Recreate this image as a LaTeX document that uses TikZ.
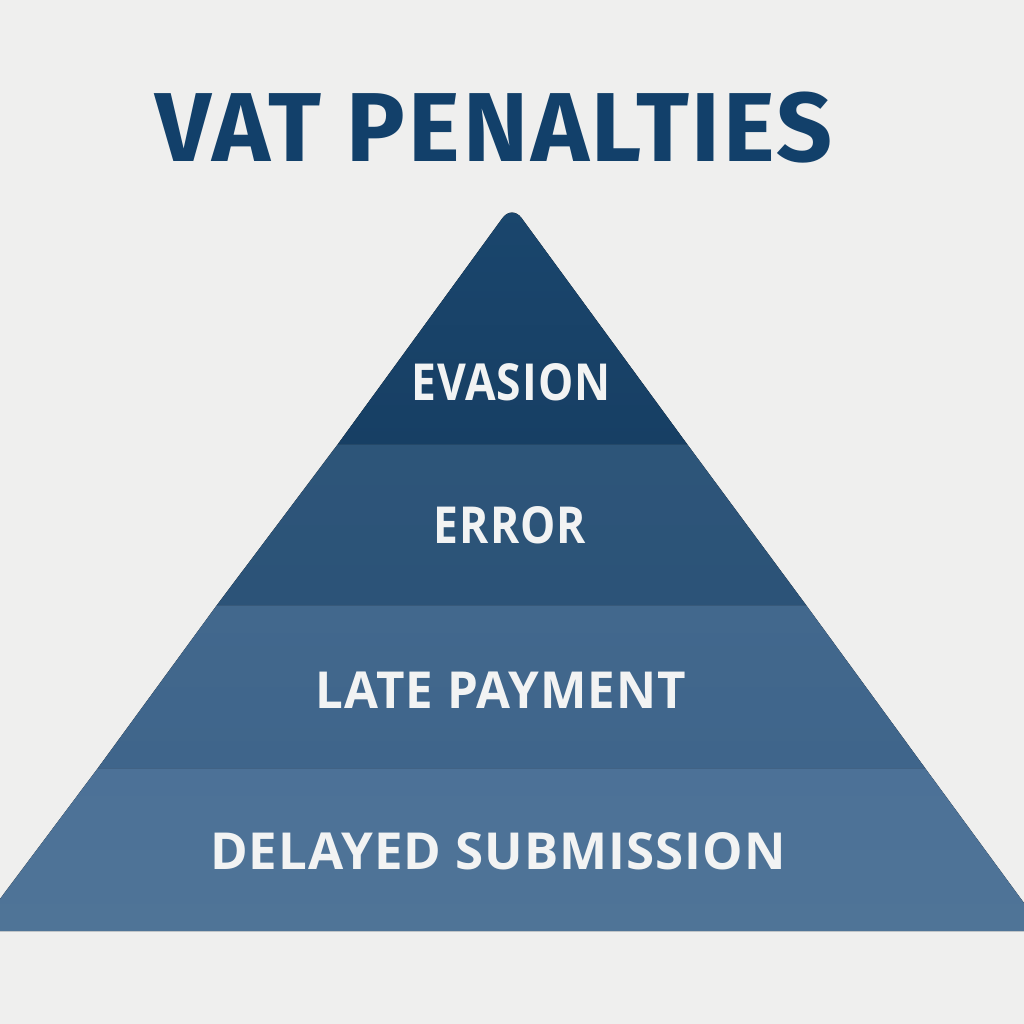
\documentclass[tikz,border=0pt]{standalone}
\usepackage{fontspec}
\setmainfont{Open Sans}
\newfontfamily\titlefont[LetterSpace=3]{Fira Sans}
\definecolor{bgc}{HTML}{EFEFEE}
\definecolor{titlec}{HTML}{12406A}
\definecolor{txt}{HTML}{F2F3F3}
\definecolor{aa}{HTML}{173F64}
\definecolor{ab}{HTML}{1A466D}
\definecolor{ba}{HTML}{2C5378}
\definecolor{bb}{HTML}{2D5579}
\definecolor{ca}{HTML}{3F658B}
\definecolor{cb}{HTML}{42688D}
\definecolor{da}{HTML}{4C7197}
\definecolor{db}{HTML}{4F7497}
\tikzset{
 lbl/.style={text=txt,font=\fontsize{51pt}{54pt}\selectfont\addfontfeature{LetterSpace=2,FakeStretch=#1}\bfseries,anchor=center,inner sep=0},
}
\begin{document}
\begin{tikzpicture}[x=1pt,y=-1pt]
\useasboundingbox (0,0) rectangle (1024,1024);
\fill[bgc] (0,0) rectangle (1024,1024);
\fill[top color=da,bottom color=db] (0,899) -- (0,931) -- (1024,931) -- (1024,903) -- (925,768) -- (98,768) -- cycle;
\fill[top color=cb,bottom color=ca] (98,768) -- (925,768) -- (806,605) -- (217,605) -- cycle;
\fill[top color=bb,bottom color=ba] (217,605) -- (806,605) -- (687,444) -- (338,444) -- cycle;
\fill[top color=ab,bottom color=aa] (338,444) [rounded corners=16pt] -- (512,205) [sharp corners] -- (687,444) -- cycle;
\node[inner sep=0,text=titlec,font=\fontsize{98pt}{102pt}\selectfont\titlefont\bfseries] (title) at (494,128) {VAT PENALTIES};
\node[lbl=.87] (l1) at (511,382) {EVASION};
\node[lbl=.87] (l2) at (510,525) {ERROR};
\node[lbl=.966] (l3) at (501,690) {LATE PAYMENT};
\node[lbl=1] (l4) at (498,851) {DELAYED SUBMISSION};
\end{tikzpicture}
\end{document}
